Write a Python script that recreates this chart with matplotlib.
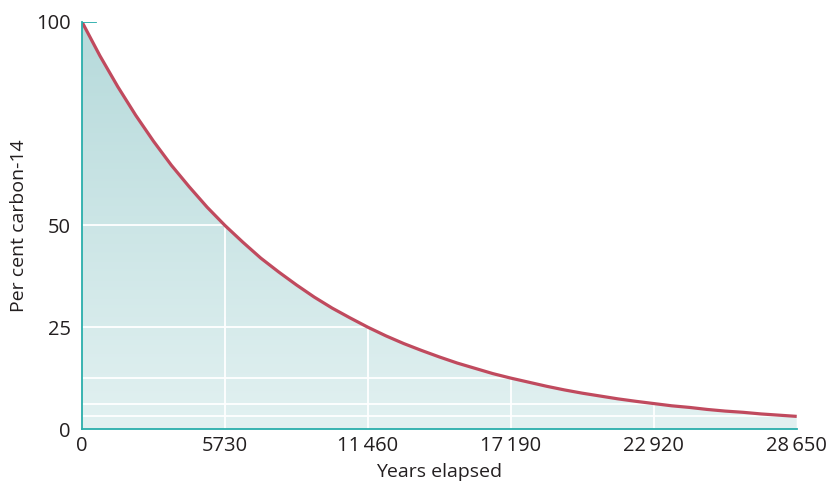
import matplotlib.pyplot as plt
import numpy as np
from matplotlib.colors import LinearSegmentedColormap

years = [0, 716, 1433, 2149, 2865, 3581, 4298, 5014, 5730, 6446, 7163, 7879,
         8595, 9311, 10028, 10744, 11460, 12176, 12893, 13609, 14325, 15041,
         15758, 16474, 17190, 17906, 18623, 19339, 20055, 20771, 21488, 22204,
         22920, 23636, 24353, 25069, 25785, 26501, 27218, 27934, 28650]
percent = [100, 91.7, 84.1, 77.1, 70.7, 64.8, 59.5, 54.5, 50.0, 45.9, 42.0, 38.6,
           35.4, 32.4, 29.7, 27.3, 25.0, 22.9, 21.0, 19.3, 17.7, 16.2,
           14.9, 13.6, 12.5, 11.5, 10.5, 9.6, 8.8, 8.1, 7.4, 6.8,
           6.25, 5.7, 5.3, 4.8, 4.4, 4.1, 3.7, 3.4, 3.1]

half_life_years = [5730, 11460, 17190, 22920]
half_life_levels = [50, 25, 12.5, 6.25, 3.125]

x_ticks = [0, 5730, 11460, 17190, 22920, 28650]
x_labels = ['0', '5730', '11\u2009460', '17\u2009190', '22\u2009920', '28\u2009650']
y_ticks = [0, 25, 50, 100]
y_labels = ['0', '25', '50', '100']

teal = '#2aaeab'
curve = '#c04a5e'
text_col = '#231f20'

plt.rcParams['font.family'] = ['Open Sans', 'DejaVu Sans']

fig = plt.figure(figsize=(8.32, 4.83), dpi=100)
ax = fig.add_axes([0.0986, 0.1118, 0.859, 0.8427])
ax.set_xlim(0, 28650)
ax.set_ylim(0, 100)

# gradient fill under the curve
cmap = LinearSegmentedColormap.from_list('fill', ['#e2f1f1', '#b6dadb'])
grad = np.linspace(0, 1, 256).reshape(-1, 1)
img = ax.imshow(grad, cmap=cmap, origin='lower', aspect='auto',
                extent=[0, 28650, 0, 100], zorder=1)
poly = ax.fill_between(years, percent, 0, color='none', zorder=1)
clip = poly.get_paths()[0]
img.set_clip_path(clip, transform=ax.transData)

# white grid lines, clipped to the filled area
for xv in half_life_years:
    ln, = ax.plot([xv, xv], [0, 100], color='white', lw=1.3, zorder=2)
    ln.set_clip_path(clip, transform=ax.transData)
for yv in half_life_levels:
    ln, = ax.plot([0, 28650], [yv, yv], color='white', lw=1.3, zorder=2)
    ln.set_clip_path(clip, transform=ax.transData)

ax.plot(years, percent, color=curve, lw=2.3, zorder=3, solid_capstyle='butt')

# short teal marker at the top of the y axis
ax.axhline(100, xmin=0, xmax=0.02, color=teal, lw=1.3, zorder=4)

for s in ['top', 'right']:
    ax.spines[s].set_visible(False)
for s in ['left', 'bottom']:
    ax.spines[s].set_color(teal)
    ax.spines[s].set_linewidth(1.3)
    ax.spines[s].set_zorder(4)

ax.set_xticks(x_ticks)
ax.set_xticklabels(x_labels)
ax.set_yticks(y_ticks)
ax.set_yticklabels(y_labels)
ax.tick_params(length=0, labelsize=14.5, labelcolor=text_col)
ax.tick_params(axis='x', pad=5)
ax.tick_params(axis='y', pad=8)

ax.set_xlabel('Years elapsed', fontsize=14, color=text_col, labelpad=5)
ax.set_ylabel('Per cent carbon-14', fontsize=14, color=text_col, labelpad=6)

fig.savefig('out.png', dpi=100)
